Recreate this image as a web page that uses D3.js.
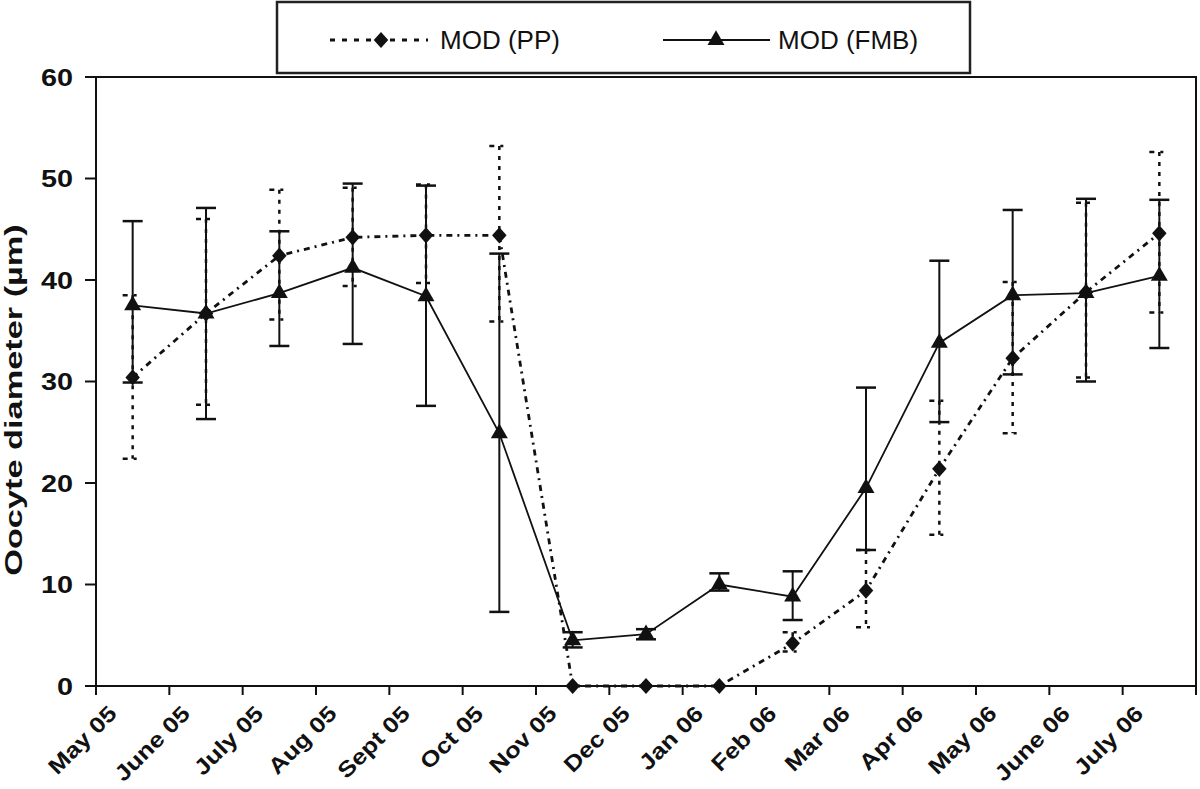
<!DOCTYPE html>
<html><head><meta charset="utf-8">
<script src="https://cdn.jsdelivr.net/npm/d3@7"></script>
<style>body{margin:0;background:#fff}svg{display:block}text{font-family:"Liberation Sans",Arial,sans-serif;fill:#111}</style>
</head><body><svg id="c" width="1200" height="789"></svg>
<script>
const months = ["May 05","June 05","July 05","Aug 05","Sept 05","Oct 05","Nov 05","Dec 05","Jan 06","Feb 06","Mar 06","Apr 06","May 06","June 06","July 06"];
const yTicks = [0,10,20,30,40,50,60];
const ppMean  = [30.4,36.7,42.4,44.2,44.4,44.4,0,0,0,4.2,9.4,21.4,32.3,38.8,44.6];
const ppUpper = [38.5,46.0,48.9,49.1,49.4,53.2,0,0,0,5.3,13.4,28.1,39.8,47.6,52.6];
const ppLower = [22.4,27.7,36.1,39.4,39.7,35.9,0,0,0,3.4,5.8,14.9,24.9,30.4,36.8];
const fmbMean  = [37.5,36.7,38.7,41.2,38.4,24.9,4.5,5.1,10.0,8.8,19.5,33.8,38.5,38.7,40.4];
const fmbUpper = [45.8,47.1,44.8,49.5,49.3,42.6,5.3,5.6,11.1,11.3,29.4,41.9,46.9,48.0,47.9];
const fmbLower = [29.9,26.3,33.5,33.7,27.6,7.3,3.8,4.6,9.4,6.5,13.4,26.0,30.7,30.0,33.3];
const seriesNames = ["MOD (PP)","MOD (FMB)"];

const svg = d3.select("#c");
const L=96,R=1196,T=77,B=686;
const x = d3.scaleBand().domain(months).range([L,R]).padding(0);
const y = d3.scaleLinear().domain([0,60]).range([B,T]);
const cx = m => x(m)+x.bandwidth()/2;
const ink="#111";

// frame
svg.append("rect").attr("x",L).attr("y",T).attr("width",R-L).attr("height",B-T)
  .attr("fill","none").attr("stroke",ink).attr("stroke-width",2);

// y ticks
const yg = svg.append("g");
yTicks.forEach(t=>{
  yg.append("line").attr("x1",L-11).attr("x2",L).attr("y1",y(t)).attr("y2",y(t)).attr("stroke",ink).attr("stroke-width",2);
  yg.append("text").attr("text-anchor","end").attr("dy","0.36em")
    .attr("transform",`translate(${L-23},${y(t)}) scale(1.2,1)`)
    .attr("font-size",24).attr("font-weight","bold").text(t);
});
// x ticks
const xg = svg.append("g");
const tickPos = months.map(m=>x(m)).concat([R]);
tickPos.forEach(p=>{
  xg.append("line").attr("x1",p).attr("x2",p).attr("y1",B).attr("y2",B+9).attr("stroke",ink).attr("stroke-width",2);
});
months.forEach(m=>{
  xg.append("text").attr("text-anchor","end")
    .attr("transform",`translate(${x(m)+22},${B+29}) rotate(-45) scale(1.17,1)`)
    .attr("font-size",22).attr("font-weight","bold").text(m);
});
// y title
svg.append("text").attr("text-anchor","middle")
  .attr("transform",`translate(22,400) rotate(-90) scale(1.43,1)`)
  .attr("font-size",24).attr("font-weight","bold").text("Oocyte diameter (µm)");

const ppDash="6,5,2,5";
const diamond = d3.symbol().type(d3.symbolSquare).size(105);
const tri = d3.symbol().type(d3.symbolTriangle).size(125);
const diaT = (px,py)=>`translate(${px},${py}) scale(1,1.12) rotate(45)`;

// PP series
const ppG = svg.append("g");
months.forEach((m,i)=>{
  if(ppUpper[i]-ppLower[i]>0.2){
    ppG.append("line").attr("x1",cx(m)).attr("x2",cx(m)).attr("y1",y(ppUpper[i])).attr("y2",y(ppLower[i]))
      .attr("stroke",ink).attr("stroke-width",2.5).attr("stroke-dasharray","4,6");
    [ppUpper[i],ppLower[i]].forEach(v=>{
      ppG.append("line").attr("x1",cx(m)-10).attr("x2",cx(m)+10).attr("y1",y(v)).attr("y2",y(v))
        .attr("stroke",ink).attr("stroke-width",2.5).attr("stroke-dasharray","5,6,3,6");
    });
  }
});
ppG.append("path").datum(months.map((m,i)=>[cx(m),y(ppMean[i])]))
  .attr("d",d3.line()).attr("fill","none").attr("stroke",ink).attr("stroke-width",2.8).attr("stroke-dasharray",ppDash);
months.forEach((m,i)=>{
  ppG.append("path").attr("d",diamond).attr("transform",diaT(cx(m),y(ppMean[i]))).attr("fill",ink);
});

// FMB series
const fG = svg.append("g");
months.forEach((m,i)=>{
  fG.append("line").attr("x1",cx(m)).attr("x2",cx(m)).attr("y1",y(fmbUpper[i])).attr("y2",y(fmbLower[i]))
    .attr("stroke",ink).attr("stroke-width",2);
  [fmbUpper[i],fmbLower[i]].forEach(v=>{
    fG.append("line").attr("x1",cx(m)-10).attr("x2",cx(m)+10).attr("y1",y(v)).attr("y2",y(v))
      .attr("stroke",ink).attr("stroke-width",2.5);
  });
});
fG.append("path").datum(months.map((m,i)=>[cx(m),y(fmbMean[i])]))
  .attr("d",d3.line()).attr("fill","none").attr("stroke",ink).attr("stroke-width",1.8);
months.forEach((m,i)=>{
  fG.append("path").attr("d",tri).attr("transform",`translate(${cx(m)},${y(fmbMean[i])})`).attr("fill",ink);
});

// legend
const lg = svg.append("g");
lg.append("rect").attr("x",277).attr("y",2).attr("width",693).attr("height",71)
  .attr("fill","#fff").attr("stroke","#222").attr("stroke-width",2.5);
const ly=40;
lg.append("line").attr("x1",330).attr("x2",428).attr("y1",ly).attr("y2",ly).attr("stroke",ink).attr("stroke-width",2.8).attr("stroke-dasharray","5,7");
lg.append("path").attr("d",diamond).attr("transform",diaT(381,ly)).attr("fill",ink);
lg.append("text").attr("x",440).attr("y",ly).attr("dy","0.36em").attr("font-size",26).text(seriesNames[0]);
lg.append("line").attr("x1",663).attr("x2",770).attr("y1",ly).attr("y2",ly).attr("stroke",ink).attr("stroke-width",2);
lg.append("path").attr("d",tri).attr("transform",`translate(716,${ly})`).attr("fill",ink);
lg.append("text").attr("x",778).attr("y",ly).attr("dy","0.36em").attr("font-size",26).text(seriesNames[1]);
</script></body></html>
